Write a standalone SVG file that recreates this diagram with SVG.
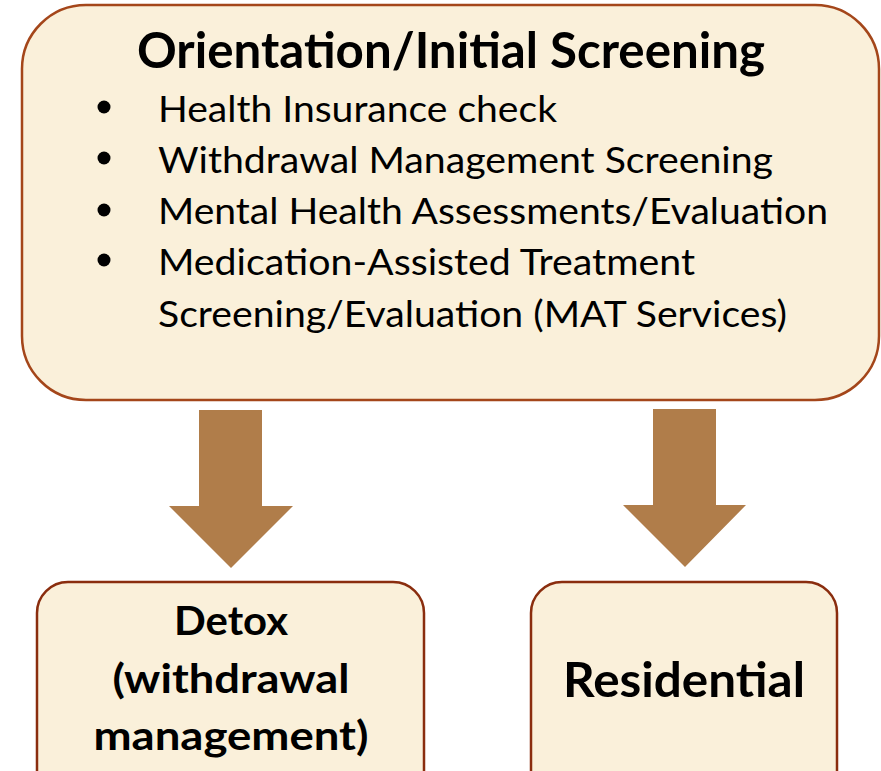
<svg xmlns="http://www.w3.org/2000/svg" width="881" height="771" viewBox="0 0 881 771">
<style>
.box{fill:#FAF0DA;stroke-width:2.5}
.top{stroke:#A4461A}
.low{stroke:#8A2D0E}
.arrow{fill:#B07D4A}
text{font-family:Lato,"Liberation Sans",sans-serif;fill:#000}
.title{font-weight:bold;font-size:49px}
.item{font-size:36px}
.sub{font-weight:bold;font-size:40px;text-anchor:middle}
.res{font-weight:bold;font-size:47px;text-anchor:middle}
.dot{fill:#000}
</style>
<rect width="881" height="771" fill="#FFFFFF"/>
<g id="node-screening">
<rect class="box top" x="22" y="5" width="857" height="395" rx="64" ry="64"/>
<text class="title" x="137" y="68" textLength="628" lengthAdjust="spacingAndGlyphs">Orientation/Initial Screening</text>
<circle class="dot" cx="104" cy="107" r="6.5"/>
<circle class="dot" cx="104" cy="158" r="6.5"/>
<circle class="dot" cx="104" cy="210" r="6.5"/>
<circle class="dot" cx="104" cy="260" r="6.5"/>
<text class="item" x="158" y="122" textLength="399" lengthAdjust="spacingAndGlyphs">Health Insurance check</text>
<text class="item" x="158" y="173" textLength="615" lengthAdjust="spacingAndGlyphs">Withdrawal Management Screening</text>
<text class="item" x="158" y="224" textLength="670" lengthAdjust="spacingAndGlyphs">Mental Health Assessments/Evaluation</text>
<text class="item" x="158" y="275" textLength="537" lengthAdjust="spacingAndGlyphs">Medication-Assisted Treatment</text>
<text class="item" x="158" y="327" textLength="629" lengthAdjust="spacingAndGlyphs">Screening/Evaluation (MAT Services)</text>
</g>
<g id="connectors">
<polygon class="arrow" points="199,410 262,410 262,506 293,506 231,568 169,506 199,506"/>
<polygon class="arrow" points="653,409 716,409 716,505 746,505 685,567 623,505 653,505"/>
</g>
<g id="node-detox">
<rect class="box low" x="37" y="582" width="387" height="220" rx="31" ry="31"/>
<text class="sub" x="231" y="635" textLength="114" lengthAdjust="spacingAndGlyphs">Detox</text>
<text class="sub" x="231" y="693" textLength="237" lengthAdjust="spacingAndGlyphs">(withdrawal</text>
<text class="sub" x="231" y="750" textLength="275" lengthAdjust="spacingAndGlyphs">management)</text>
</g>
<g id="node-residential">
<rect class="box low" x="531" y="582" width="306" height="220" rx="31" ry="31"/>
<text class="res" x="684" y="697" textLength="242" lengthAdjust="spacingAndGlyphs">Residential</text>
</g>
</svg>
